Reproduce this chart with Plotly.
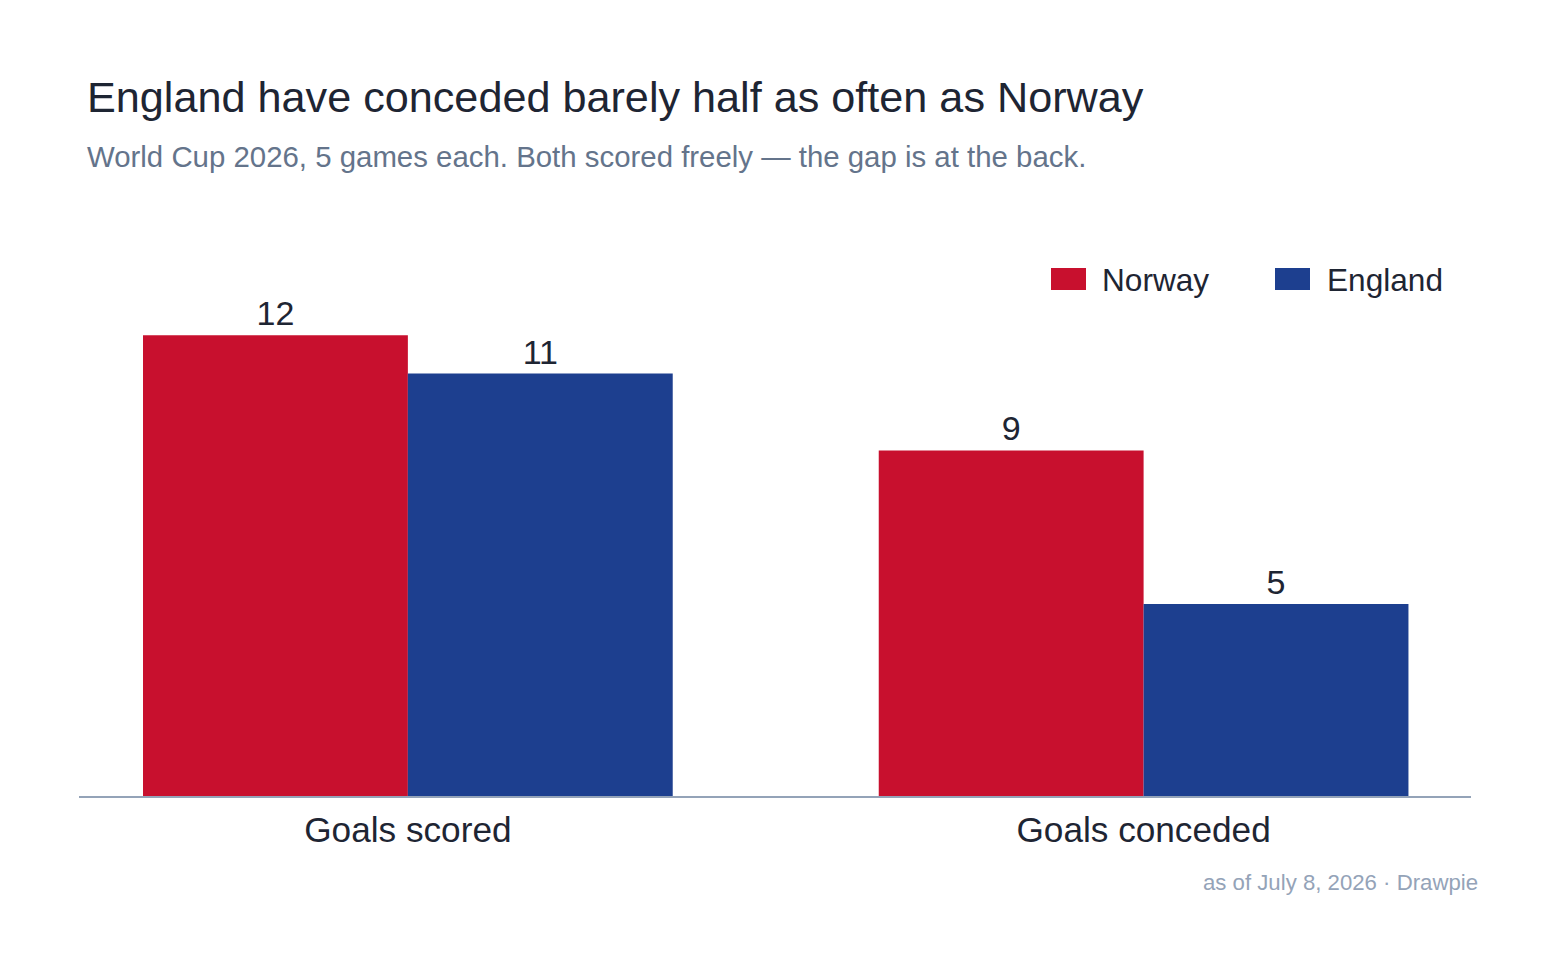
import plotly.graph_objects as go

categories = ["Goals scored", "Goals conceded"]
series_names = ["Norway", "England"]
norway = [12, 9]
england = [11, 5]
colors = {"Norway": "#C8102E", "England": "#1D3F8F"}

title_text = "England have conceded barely half as often as Norway"
subtitle_text = "World Cup 2026, 5 games each. Both scored freely \u2014 the gap is at the back."
footer_text = "as of July 8, 2026 \u00b7 Drawpie"

FONT = "Liberation Sans, Arial, Helvetica, sans-serif"
W, H = 1558, 972
L, R, T, B = 79, 87, 266, 176
PW, PH = W - L - R, H - T - B

def px_x(x):
    return (x - L) / PW

def px_y(y):
    return (H - B - y) / PH

fig = go.Figure()
for name, vals in zip(series_names, [norway, england]):
    fig.add_trace(go.Bar(
        x=categories, y=vals, name=name,
        marker=dict(color=colors[name], line=dict(width=0)),
        text=[str(v) for v in vals], textposition="outside",
        textfont=dict(size=34, color="#1E2533", family=FONT),
        cliponaxis=False, showlegend=False,
    ))

annotations = [
    dict(text=title_text, x=px_x(86), y=px_y(97), xref="paper", yref="paper",
         xanchor="left", yanchor="middle", showarrow=False, borderpad=0,
         font=dict(size=43.2, color="#1E2533", family=FONT)),
    dict(text=subtitle_text, x=px_x(86), y=px_y(157), xref="paper", yref="paper",
         xanchor="left", yanchor="middle", showarrow=False, borderpad=0,
         font=dict(size=29.4, color="#64748B", family=FONT)),
    dict(text=footer_text, x=px_x(1479), y=px_y(882), xref="paper", yref="paper",
         xanchor="right", yanchor="middle", showarrow=False, borderpad=0,
         font=dict(size=22.2, color="#94A3B8", family=FONT)),
]
shapes = []
legend_pos = [(1051, 1101), (1275, 1326)]
for name, (sx, tx) in zip(series_names, legend_pos):
    shapes.append(dict(type="rect", xref="paper", yref="paper",
                       x0=px_x(sx), x1=px_x(sx + 35), y0=px_y(290), y1=px_y(268),
                       fillcolor=colors[name], line=dict(width=0)))
    annotations.append(dict(text=name, x=px_x(tx), y=px_y(280), xref="paper", yref="paper",
                            xanchor="left", yanchor="middle", showarrow=False, borderpad=0,
                            font=dict(size=31.6, color="#1E2533", family=FONT)))

fig.update_layout(
    width=W, height=H,
    margin=dict(l=L, r=R, t=T, b=B, pad=0),
    paper_bgcolor="white", plot_bgcolor="white",
    barmode="group", bargap=0.28, bargroupgap=0,
    font=dict(family=FONT, color="#1E2533"),
    annotations=annotations, shapes=shapes,
    showlegend=False,
    xaxis=dict(range=[-0.447, 1.445], showgrid=False, zeroline=False,
               showline=True, linecolor="#94A3B8", linewidth=2,
               ticks="outside", ticklen=2, tickcolor="rgba(0,0,0,0)",
               tickfont=dict(size=35.2, color="#1E2533", family=FONT),
               fixedrange=True),
    yaxis=dict(range=[0, PH / 38.4], visible=False, showgrid=False, zeroline=False,
               fixedrange=True),
)

fig.write_html("out.html", config={"displayModeBar": False})
